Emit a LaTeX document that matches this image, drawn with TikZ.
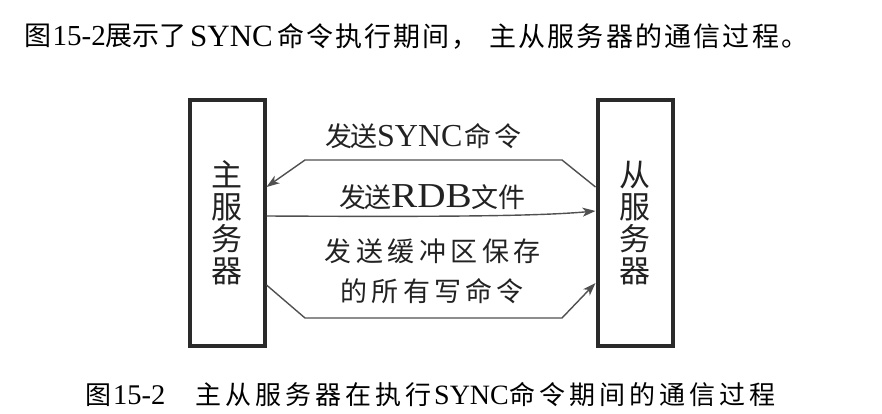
\documentclass[tikz,border=0pt]{standalone}
\usepackage{fontspec}
\usepackage{graphicx}
\setmainfont{Liberation Serif}
\newfontfamily\cjk{Noto Sans CJK SC}
\usetikzlibrary{arrows.meta}
\newcommand\cjks[2]{\def\cjkw{#1}\cjksi#2\relax}
\def\cjksi#1{\ifx#1\relax\else\makebox[\cjkw][c]{#1}\expandafter\cjksi\fi}
\newcommand\CJ[3]{{\cjk\fontsize{#1}{#1}\selectfont\cjks{#2}{#3}}}
\newcommand\LA[2]{{\fontsize{#1}{#1}\selectfont #2}}
\definecolor{boxc}{HTML}{2A2A2A}
\definecolor{arrc}{HTML}{505050}
\definecolor{labc}{HTML}{222222}
\begin{document}
\begin{tikzpicture}[x=1pt,y=-1pt,
  txt/.style={inner sep=0pt, anchor=west},
  lab/.style={txt, text=labc},
  server/.style={draw=boxc, line width=4pt, minimum width=75pt, minimum height=245pt,
    align=center, inner sep=0pt, text=labc, font=\cjk\fontsize{31}{32}\selectfont},
  arr/.style={draw=arrc, line width=1.4pt, -{Stealth[length=13pt,width=9pt,inset=3.5pt]}}]
\useasboundingbox[fill=white] (0,0) rectangle (882,414);
% title
\node[txt] (t1) at (24,36) {\CJ{27}{28.5pt}{图}\LA{29}{15-2}\CJ{27}{27pt}{展示了}};
\node[txt] (t2) at (190,36) {\LA{31}{SYNC}};
\node[txt] (t3) at (276,36) {\CJ{27}{29pt}{命令执行期间，}};
\node[txt] (t4) at (488,36) {\CJ{27}{29.2pt}{主从服务器的通信过程。}};
% servers
\node[server] (master) at (227,223) {主\\服\\务\\器};
\node[server] (slave) at (635,223) {从\\服\\务\\器};
% labels
\node[lab] (l1) at (326,136) {\CJ{27}{25.5pt}{发送}\LA{32}{SYNC}\CJ{27}{30pt}{命令}};
\node[lab] (l2) at (340,197) {\CJ{27}{25.5pt}{发送}\scalebox{1.12}[1]{\LA{35}{RDB}}\CJ{27}{27pt}{文件}};
\node[lab] (l3) at (322.5,251) {\CJ{27}{31.5pt}{发送缓冲区保存}};
\node[lab] (l4) at (338.5,291) {\CJ{27}{31.2pt}{的所有写命令}};
% connectors
\draw[arr] ([yshift=36pt]slave.west) -- (562,160) -- (305,160) -- ([yshift=36pt]master.east);
\draw[arr] ([yshift=7pt]master.east) .. controls (450,217) and (540,216) .. ([yshift=12pt]slave.west);
\draw[arr] ([yshift=-62pt]master.east) -- (305,318) -- (562,318) -- ([yshift=-60pt]slave.west);
% caption
\node[txt] (c1) at (83,395) {\CJ{26}{30pt}{图}\LA{28.5}{15-2}};
\node[txt] (c2) at (193,395) {\CJ{26}{30pt}{主从服务器在执行}};
\node[txt] (c3) at (434,395) {\LA{28}{SYNC}};
\node[txt] (c4) at (507,395) {\CJ{26}{30pt}{命令期间的通信过程}};
\end{tikzpicture}
\end{document}
